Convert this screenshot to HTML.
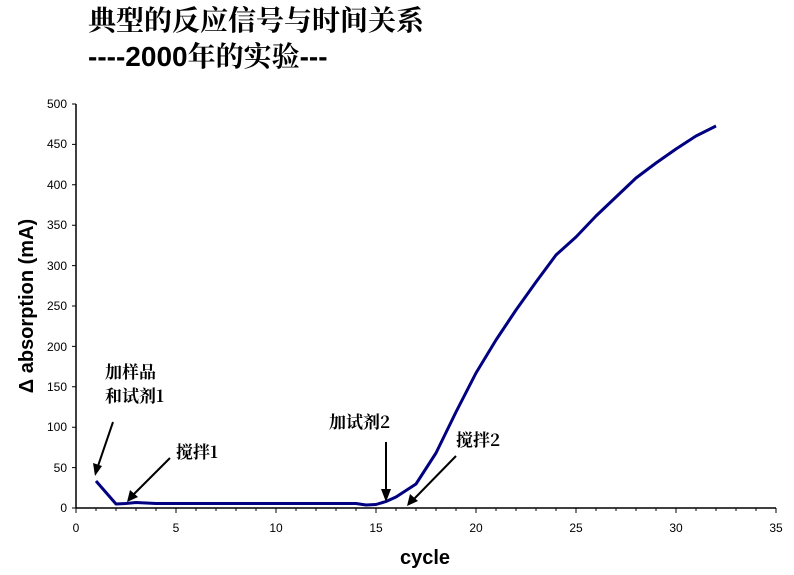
<!DOCTYPE html>
<html><head><meta charset="utf-8"><style>
body{margin:0;background:#fff;}
svg{display:block;}
</style></head><body>
<svg width="794" height="575" xmlns="http://www.w3.org/2000/svg">
<text x="88" y="30" font-family="Noto Serif CJK SC, serif" font-size="28" font-weight="bold" fill="#000">典型的反应信号与时间关系</text>
<text x="88" y="66" font-family="Liberation Sans, Noto Sans CJK SC, sans-serif" font-size="28" font-weight="bold" fill="#000">----2000<tspan font-family="Noto Serif CJK SC, serif">年的实验</tspan>---</text>
<g stroke="#000" stroke-width="1.5">
<line x1="76" y1="104" x2="76" y2="508"/>
<line x1="76" y1="508" x2="776" y2="508"/>
</g>
<g stroke="#000" stroke-width="1">
<path d="M72 104H76M72 144.4H76M72 184.8H76M72 225.2H76M72 265.6H76M72 306H76M72 346.4H76M72 386.8H76M72 427.2H76M72 467.6H76M72 508H76"/>
<path d="M76 508v5M96 508v3M116 508v3M136 508v3M156 508v3M176 508v5M196 508v3M216 508v3M236 508v3M256 508v3M276 508v5M296 508v3M316 508v3M336 508v3M356 508v3M376 508v5M396 508v3M416 508v3M436 508v3M456 508v3M476 508v5M496 508v3M516 508v3M536 508v3M556 508v3M576 508v5M596 508v3M616 508v3M636 508v3M656 508v3M676 508v5M696 508v3M716 508v3M736 508v3M756 508v3M776 508v5"/>
</g>
<g font-family="Liberation Sans, sans-serif" font-size="12" fill="#000" text-anchor="end">
<text x="67" y="108">500</text><text x="67" y="148">450</text><text x="67" y="189">400</text><text x="67" y="229">350</text><text x="67" y="270">300</text><text x="67" y="310">250</text><text x="67" y="351">200</text><text x="67" y="391">150</text><text x="67" y="431">100</text><text x="67" y="472">50</text><text x="67" y="512">0</text>
</g>
<g font-family="Liberation Sans, sans-serif" font-size="12" fill="#000" text-anchor="middle">
<text x="76" y="532">0</text><text x="176" y="532">5</text><text x="276" y="532">10</text><text x="376" y="532">15</text><text x="476" y="532">20</text><text x="576" y="532">25</text><text x="676" y="532">30</text><text x="776" y="532">35</text>
</g>
<text x="425" y="564" font-family="Liberation Sans, sans-serif" font-size="20" font-weight="bold" text-anchor="middle">cycle</text>
<text transform="translate(33,306) rotate(-90)" font-family="Liberation Sans, sans-serif" font-size="20" font-weight="bold" text-anchor="middle">Δ absorption (mA)</text>
<polyline fill="none" stroke="#000080" stroke-width="3" stroke-linejoin="round" points="96,481 116,504 126,503.5 136,502.5 156,503.5 176,503.5 196,503.5 216,503.5 236,503.5 256,503.5 276,503.5 296,503.5 316,503.5 336,503.5 356,503.5 366,505 376,504.5 386,501.5 396,497 416,484 436,453 456,412 476,373 496,340 516,310 536,282 556,255 576,237 596,216 616,197 636,178 656,163 676,149 696,136 716,126"/>
<g font-family="Noto Serif CJK SC, serif" font-size="17" font-weight="bold" fill="#000">
<text x="105" y="378">加样品</text>
<text x="105" y="402">和试剂1</text>
<text x="176" y="458">搅拌1</text>
<text x="329" y="428">加试剂2</text>
<text x="456" y="446">搅拌2</text>
</g>
<g stroke="#000" stroke-width="2" fill="#000">
<line x1="113" y1="422" x2="98" y2="466"/><polygon points="95,476 93,463 102,466" stroke="none"/>
<line x1="170" y1="458" x2="133" y2="495"/><polygon points="127,502 130,490 138,497" stroke="none"/>
<line x1="386" y1="442" x2="386" y2="492"/><polygon points="386,502 381,489 391,489" stroke="none"/>
<line x1="456" y1="456" x2="414" y2="499"/><polygon points="407,506 410,494 418,501" stroke="none"/>
</g>
</svg>
</body></html>
